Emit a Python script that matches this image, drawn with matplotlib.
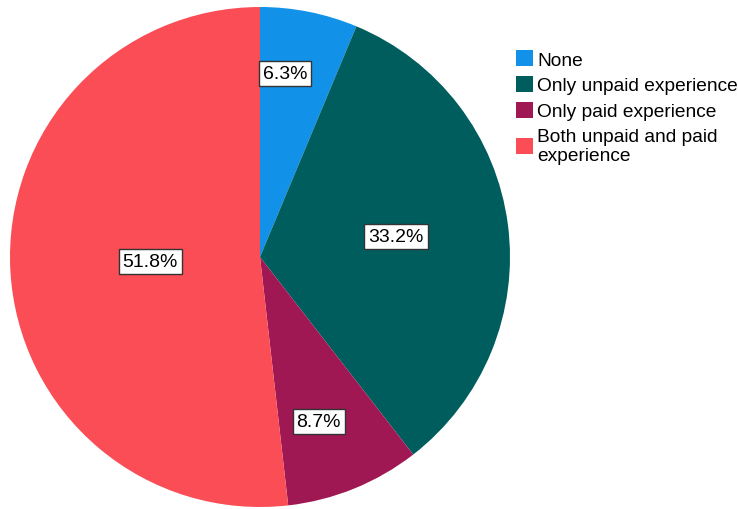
import matplotlib
matplotlib.use("Agg")
import matplotlib.pyplot as plt
from matplotlib.patches import Patch
import numpy as np

plt.rcParams['font.family'] = ['Liberation Sans', 'DejaVu Sans']

categories = ["None", "Only unpaid experience", "Only paid experience",
              "Both unpaid and paid\nexperience"]
values = [6.3, 33.2, 8.7, 51.8]
colors = ["#1192e8", "#005d5d", "#9f1853", "#fa4d56"]
label_radius = [0.74, 0.55, 0.70, 0.44]
label_angle_shift = [3.5, 1.0, -2.5, -1.0]

fig = plt.figure(figsize=(7.38, 5.10), dpi=100)
ax = fig.add_axes([10/738, 2/510, 500/738, 500/510])
wedges, _ = ax.pie(values, colors=colors, startangle=90, counterclock=False,
                   wedgeprops=dict(linewidth=0))
ax.set_aspect('equal')
ax.set_xlim(-1, 1)
ax.set_ylim(-1, 1)

for w, v, r, s in zip(wedges, values, label_radius, label_angle_shift):
    ang = np.deg2rad((w.theta1 + w.theta2) / 2 + s)
    ax.text(r * np.cos(ang), r * np.sin(ang), f"{v:.1f}%", ha='center', va='center',
            fontsize=14, color='black',
            bbox=dict(boxstyle='square,pad=0.2', facecolor='white',
                      edgecolor='#333333', linewidth=1))

handles = [Patch(facecolor=c, edgecolor='none') for c in colors]
fig.legend(handles, categories, loc='upper left', bbox_to_anchor=(516/738, 1 - 51/510),
           frameon=False, fontsize=13.8, handlelength=0.9, handleheight=0.9,
           handletextpad=0.2, labelspacing=0.38, borderaxespad=0, borderpad=0)

fig.savefig("out.png", dpi=100)
